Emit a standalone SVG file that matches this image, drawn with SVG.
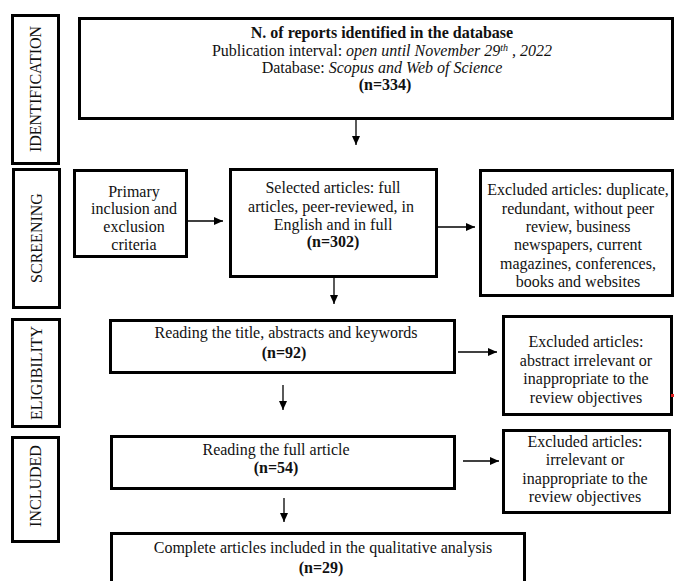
<svg xmlns="http://www.w3.org/2000/svg" width="675" height="581" viewBox="0 0 675 581">
<style>
.box{fill:#fff;stroke:#000;stroke-width:3}
.t{font-family:"Liberation Serif","Times New Roman",serif;font-size:16px;fill:#111;text-anchor:middle}
.b{font-weight:bold}
.i{font-style:italic}
.side{font-family:"Liberation Serif","Times New Roman",serif;font-size:16px;fill:#111;text-anchor:middle}
.c{stroke:#000;stroke-width:1.3;fill:none}
</style>
<defs>
<marker id="ah" markerUnits="userSpaceOnUse" markerWidth="10" markerHeight="10" refX="9" refY="5" orient="auto">
<path d="M0,1 L9,5 L0,9 Z" fill="#000"/>
</marker>
</defs>
<rect width="675" height="581" fill="#fff"/>

<g id="side-identification">
<rect class="box" x="12.5" y="15.5" width="46" height="148"/>
<text class="side" transform="translate(35.5,89) rotate(-90)" y="5.5">IDENTIFICATION</text>
</g>
<g id="side-screening">
<rect class="box" x="13.5" y="169.5" width="46" height="138"/>
<text class="side" transform="translate(36,238) rotate(-90)" y="5.5">SCREENING</text>
</g>
<g id="side-eligibility">
<rect class="box" x="12.5" y="319.5" width="47" height="107"/>
<text class="side" transform="translate(36,373) rotate(-90)" y="5.5">ELIGIBILITY</text>
</g>
<g id="side-included">
<rect class="box" x="12.5" y="437.5" width="46" height="104"/>
<text class="side" transform="translate(35.5,486) rotate(-90)" y="5.5">INCLUDED</text>
</g>

<g id="identified">
<rect class="box" x="79.5" y="18.5" width="593" height="100"/>
<text class="t b" x="382" y="38">N. of reports identified in the database</text>
<text class="t" x="382" y="56">Publication interval: <tspan class="i">open until November 29</tspan><tspan class="i" font-size="10" dy="-5">th</tspan><tspan class="i" dy="5"> , 2022</tspan></text>
<text class="t" x="382" y="73">Database: <tspan class="i">Scopus and Web of Science</tspan></text>
<text class="t b" x="385" y="90">(n=334)</text>
</g>

<g id="primary">
<rect class="box" x="74.5" y="170.5" width="112" height="86"/>
<text class="t" x="134" y="197">Primary</text>
<text class="t" x="134" y="214">inclusion and</text>
<text class="t" x="134" y="232">exclusion</text>
<text class="t" x="134" y="250">criteria</text>
</g>

<g id="selected">
<rect class="box" x="230.5" y="169.5" width="206" height="107"/>
<text class="t" x="333" y="193">Selected articles: full</text>
<text class="t" x="331" y="212">articles, peer-reviewed, in</text>
<text class="t" x="333" y="230">English and in full</text>
<text class="t b" x="333" y="247">(n=302)</text>
</g>

<g id="excluded-screening">
<rect class="box" x="480.5" y="170.5" width="192" height="125"/>
<text class="t" x="578" y="195">Excluded articles: duplicate,</text>
<text class="t" x="578" y="213.5">redundant, without peer</text>
<text class="t" x="578" y="232">review, business</text>
<text class="t" x="578" y="250">newspapers, current</text>
<text class="t" x="578" y="268.5">magazines, conferences,</text>
<text class="t" x="578" y="287">books and websites</text>
</g>

<g id="reading-title">
<rect class="box" x="110.5" y="320.5" width="344" height="52"/>
<text class="t" x="286" y="338">Reading the title, abstracts and keywords</text>
<text class="t b" x="284" y="358">(n=92)</text>
</g>

<g id="excluded-eligibility">
<rect class="box" x="503.5" y="316.5" width="168" height="98"/>
<text class="t" x="586" y="347">Excluded articles:</text>
<text class="t" x="586" y="366">abstract irrelevant or</text>
<text class="t" x="586" y="384">inappropriate to the</text>
<text class="t" x="586" y="403">review objectives</text>
<rect x="671" y="394" width="3" height="3" fill="#e02020"/>
</g>

<g id="reading-full">
<rect class="box" x="111.5" y="436.5" width="343" height="52"/>
<text class="t" x="276" y="455">Reading the full article</text>
<text class="t b" x="276" y="473">(n=54)</text>
</g>

<g id="excluded-included">
<rect class="box" x="503.5" y="430.5" width="166" height="82"/>
<text class="t" x="585" y="447">Excluded articles:</text>
<text class="t" x="585" y="465">irrelevant or</text>
<text class="t" x="585" y="484">inappropriate to the</text>
<text class="t" x="585" y="502">review objectives</text>
</g>

<g id="complete">
<rect class="box" x="111.5" y="533.5" width="413" height="60"/>
<text class="t" x="323" y="553">Complete articles included in the qualitative analysis</text>
<text class="t b" x="321" y="573">(n=29)</text>
</g>

<g id="connectors">
<line class="c" x1="356" y1="120" x2="356" y2="145" marker-end="url(#ah)"/>
<line class="c" x1="188" y1="221" x2="223" y2="221" marker-end="url(#ah)"/>
<line class="c" x1="438" y1="227" x2="475" y2="227" marker-end="url(#ah)"/>
<line class="c" x1="334" y1="278" x2="334" y2="304" marker-end="url(#ah)"/>
<line class="c" x1="458" y1="352" x2="497" y2="352" marker-end="url(#ah)"/>
<line class="c" x1="283" y1="385" x2="283" y2="410" marker-end="url(#ah)"/>
<line class="c" x1="463" y1="461" x2="499" y2="461" marker-end="url(#ah)"/>
<line class="c" x1="284" y1="498" x2="284" y2="522" marker-end="url(#ah)"/>
</g>
</svg>
